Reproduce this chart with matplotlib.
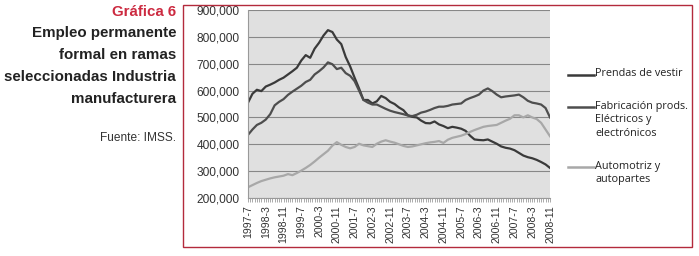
import matplotlib
matplotlib.use('Agg')
import matplotlib.pyplot as plt
from matplotlib.lines import Line2D
from matplotlib.patches import Rectangle
from matplotlib.ticker import FuncFormatter, MultipleLocator

# meses desde 1997-7 (cada 2 meses)
meses = list(range(0, 137, 2))

prendas = [555, 588, 603, 598, 615, 622, 630, 640, 648, 660, 672, 685, 712, 732, 722,
           756, 778, 805, 825, 818, 790, 773, 725, 690, 648, 608, 565, 565, 552, 560,
           580, 572, 558, 550, 537, 527, 508, 502, 500, 488, 479, 478, 485, 474, 468,
           460, 465, 462, 458, 450, 432, 418, 416, 415, 418, 410, 402, 392, 387, 384,
           378, 368, 358, 352, 348, 342, 334, 325, 312]

electronicos = [435, 455, 472, 480, 492, 512, 545, 558, 568, 584, 596, 607, 618, 632, 640,
                660, 672, 686, 705, 698, 680, 685, 665, 655, 635, 600, 565, 555, 548, 548,
                540, 532, 525, 520, 516, 512, 507, 505, 510, 518, 522, 528, 535, 540, 540,
                543, 548, 550, 552, 565, 572, 578, 585, 600, 608, 598, 585, 575, 578, 580,
                582, 585, 575, 562, 555, 552, 548, 535, 500]

automotriz = [240, 248, 256, 263, 268, 273, 277, 280, 283, 289, 285, 293, 302, 312, 323,
              336, 350, 363, 376, 395, 408, 398, 390, 385, 390, 402, 396, 393, 390, 402,
              410, 415, 410, 406, 400, 394, 390, 392, 396, 400, 404, 407, 409, 412, 405,
              417, 424, 428, 432, 438, 446, 453, 459, 465, 468, 470, 472, 480, 488, 495,
              508, 508, 500, 508, 500, 494, 480, 455, 430]

tick_labels = ['1997-7', '1998-3', '1998-11', '1999-7', '2000-3', '2000-11', '2001-7',
               '2002-3', '2002-11', '2003-7', '2004-3', '2004-11', '2005-7', '2006-3',
               '2006-11', '2007-7', '2008-3', '2008-11']

series = [
    ('Prendas de vestir', prendas, '#3a3a3a'),
    ('Fabricación prods.\nEléctricos y\nelectrónicos', electronicos, '#4e4e4e'),
    ('Automotriz y\nautopartes', automotriz, '#a8a8a8'),
]

fig = plt.figure(figsize=(6.99, 2.56), dpi=100)
W, H = 699, 256

# marco rojo
fig.add_artist(Rectangle((183 / W, 1 - 247 / H), (692 - 183) / W, (247 - 5) / H,
                         transform=fig.transFigure, fill=False,
                         edgecolor='#b32a3c', linewidth=1.0))

ax = fig.add_axes([248 / W, 1 - 198 / H, (550 - 248) / W, (198 - 10) / H])
ax.set_facecolor('#e0e0e0')

for name, vals, color in series:
    ax.plot(meses, [v * 1000 for v in vals], color=color, linewidth=1.6,
            solid_joinstyle='round')

ax.set_xlim(0, 136)
ax.set_ylim(200000, 900000)
ax.yaxis.set_major_locator(MultipleLocator(100000))
ax.yaxis.set_major_formatter(FuncFormatter(lambda v, p: f'{int(v):,}'))
ax.grid(axis='y', color='#888888', linewidth=0.8)
ax.set_axisbelow(True)

ax.set_xticks(range(0, 137, 8))
ax.set_xticklabels(tick_labels, rotation=90, fontsize=7.6, color='#333333',
                   family='Liberation Sans')
ax.set_xticks(range(0, 137), minor=True)
ax.tick_params(axis='x', which='both', direction='out', length=3, width=0.5,
               color='#888888', pad=2)
ax.tick_params(axis='y', length=0, pad=6, labelsize=8.6, labelcolor='#333333')
for lab in ax.get_yticklabels():
    lab.set_family('Liberation Sans')

for s in ['top', 'right']:
    ax.spines[s].set_visible(False)
ax.spines['left'].set_color('#999999')
ax.spines['bottom'].set_color('#999999')

# leyenda
leg_y = [75, 107, 167]
for (name, vals, color), y in zip(series, leg_y):
    fig.add_artist(Line2D([568 / W, 594 / W], [1 - y / H, 1 - y / H],
                          transform=fig.transFigure, color=color, linewidth=1.8))
    fig.text(595 / W, 1 - (y - 6.5) / H, name, ha='left', va='top', fontsize=7.8,
             family='Open Sans', color='#222222', linespacing=1.35)

# textos de la izquierda
fig.text(176 / W, 1 - 12 / H, 'Gráfica 6', ha='right', va='center', fontsize=10.8,
         fontweight='bold', color='#cc2a40', family='Liberation Sans')
titulo = ['Empleo permanente', 'formal en ramas', 'seleccionadas Industria', 'manufacturera']
for i, t in enumerate(titulo):
    fig.text(176 / W, 1 - (33 + 22 * i) / H, t, ha='right', va='center', fontsize=10.9,
             fontweight='bold', color='#222222', family='Liberation Sans')
fig.text(176 / W, 1 - 138 / H, 'Fuente: IMSS.', ha='right', va='center', fontsize=8.6,
         color='#333333', family='Liberation Sans')

fig.savefig('out.png', dpi=100)
